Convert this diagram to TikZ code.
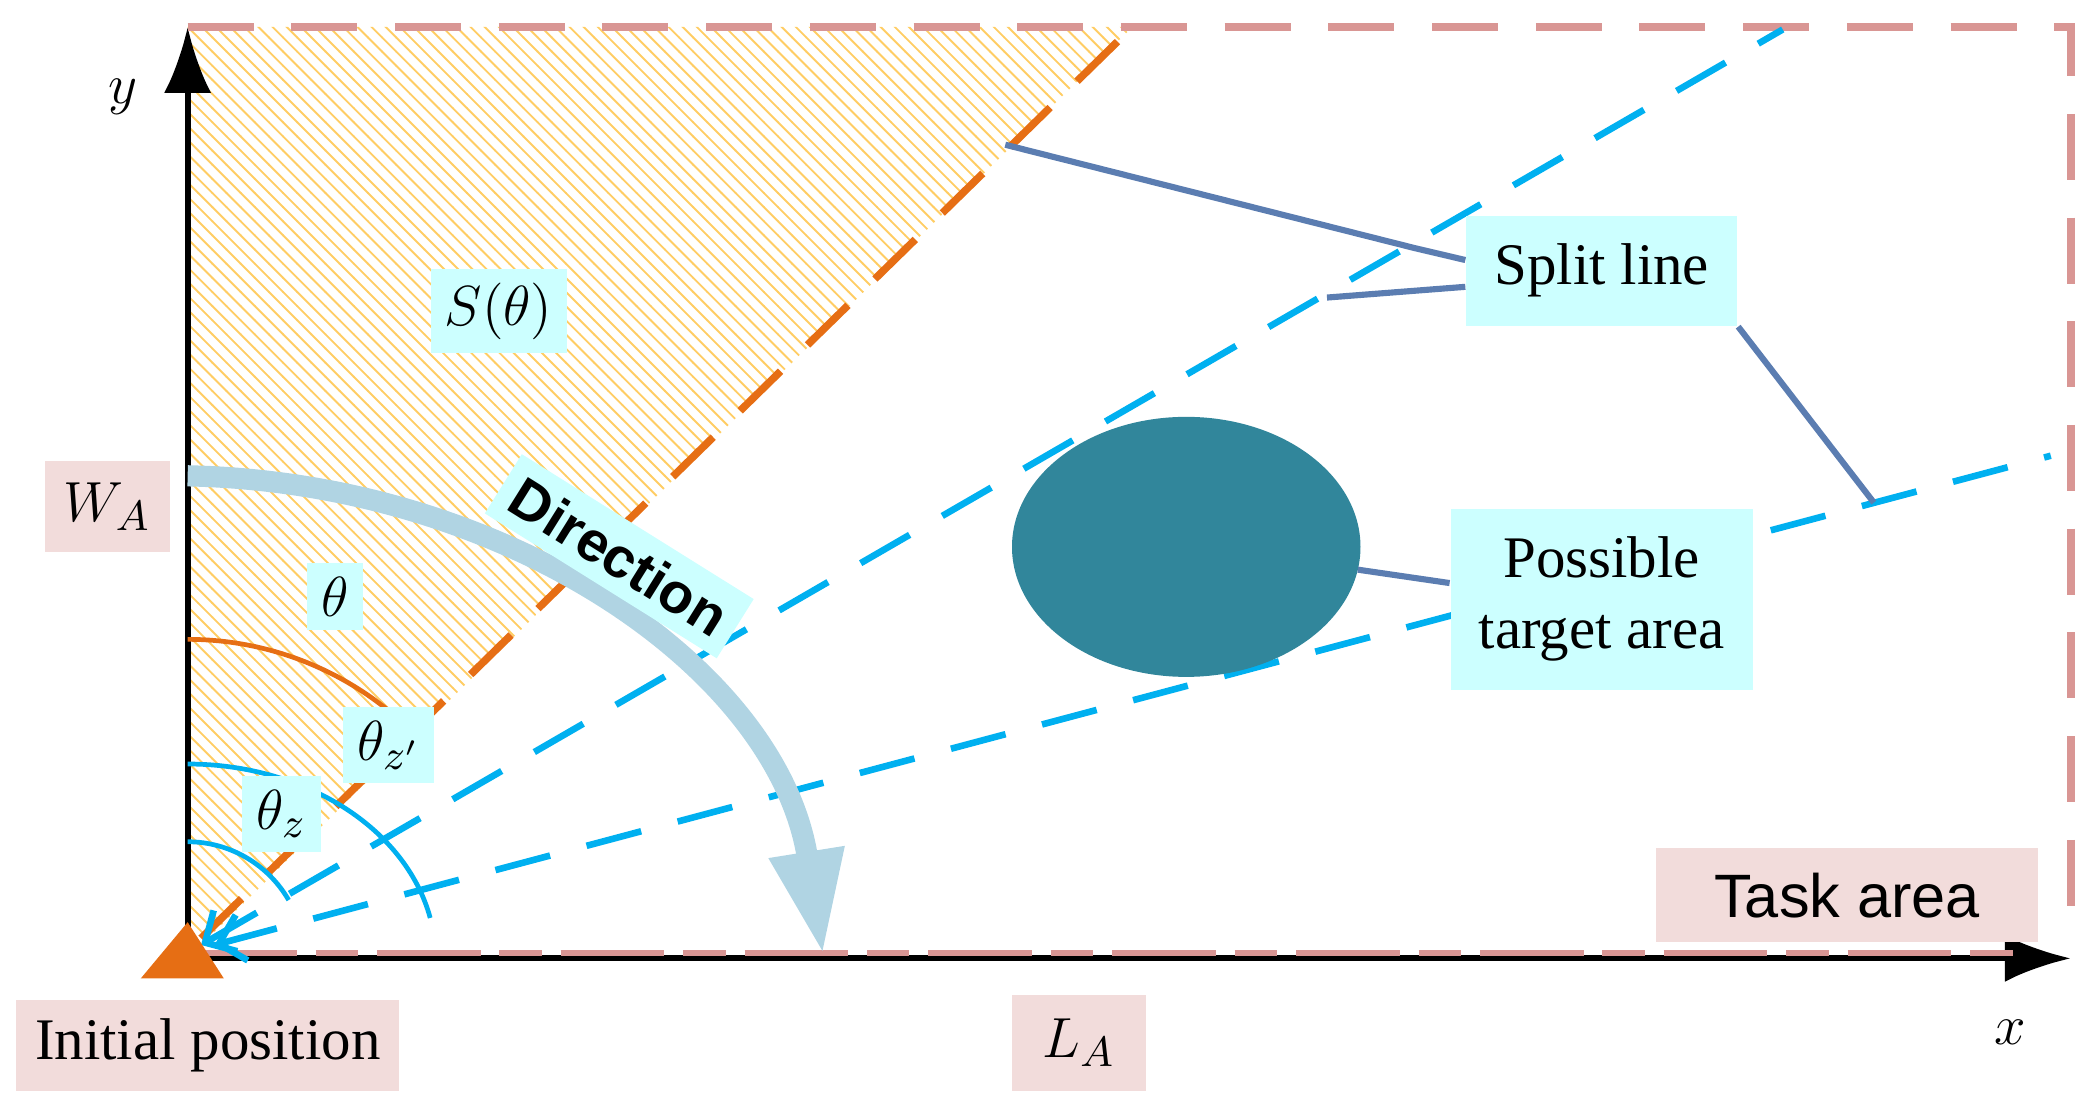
\documentclass[tikz,border=0pt]{standalone}
\usepackage{fontspec}
\setmainfont{Liberation Serif}
\newfontfamily\sansf{Liberation Sans}
\usetikzlibrary{patterns,arrows.meta}
\definecolor{taskc}{RGB}{217,150,148}
\definecolor{pinkf}{RGB}{242,220,219}
\definecolor{cyanf}{RGB}{204,255,255}
\definecolor{splitc}{RGB}{0,176,240}
\definecolor{orgc}{RGB}{230,110,20}
\definecolor{linkc}{RGB}{91,125,177}
\definecolor{ellc}{RGB}{49,134,155}
\definecolor{dirc}{RGB}{176,212,227}
\definecolor{hatchc}{RGB}{255,205,100}
\tikzset{
  lab/.style={fill=cyanf,inner sep=3pt,font=\fontsize{12.5}{15}\selectfont},
  plab/.style={fill=pinkf,inner sep=4pt,font=\fontsize{12.5}{15}\selectfont},
  split/.style={splitc,line width=1.4pt,dash pattern=on 12pt off 8pt},
  link/.style={linkc,line width=1.3pt},
}
\begin{document}
\begin{tikzpicture}[x=0.01cm,y=-0.01cm]
	\useasboundingbox (0,0) rectangle (1560,819);
	
	\coordinate (O) at (140,715);
	% hatched region
	\fill[pattern=north west lines,pattern color=hatchc] (140,715) -- (140,20) -- (845,20) -- cycle;
	
	% axes
	\draw[line width=1.3pt,-{Latex[length=14pt,width=10pt]}] (O) -- (140,20) coordinate (Y);
	\draw[line width=1.3pt,-{Latex[length=14pt,width=10pt]}] (O) -- (1545,715) coordinate (X);
	
	% task area
	\draw[taskc,line width=1.6pt,dash pattern=on 14pt off 8pt] (140,20) -- (1545,20) -- (1545,700);
	\draw[taskc,line width=1.3pt,dash pattern=on 22pt off 4pt on 9pt off 4pt] (144,711) -- (1515,711);
	
	% split lines
	\draw[orgc,line width=1.6pt,dash pattern=on 12pt off 8pt] (150,700) -- (845,20) coordinate (P0);
	\draw[split,{Straight Barb[length=5pt]}-] (150,705) -- (1330,22) coordinate (P1);
	\draw[split,{Straight Barb[length=5pt]}-] (160,705) -- (1530,340) coordinate (P2);
	
	% angles
	\draw[orgc,line width=1pt] (140,477) arc[start angle=-90,end angle=-44.4,radius=238];
	\draw[splitc,line width=1pt] (140,570) arc[start angle=-90,end angle=-12,x radius=185,y radius=145];
	\draw[splitc,line width=1pt] (140,628) arc[start angle=-90,end angle=-30,radius=87];
	
	% direction
	\draw[dirc,line width=4.5pt,-{Triangle[length=22pt,width=15pt]}] (140,355) .. controls (380,360) and (580,500) .. (614,712);
	\node[lab,rotate=-32,font=\sansf\bfseries\fontsize{12}{14}\selectfont] (dir) at (462,415) {Direction};
	
	% target
	\fill[ellc] (885,408) ellipse[x radius=130,y radius=97];
	\coordinate (E) at (1013,425);
	
	\fill[orgc] (105,730) -- (140,688) -- (167,730) -- cycle;
	
	% labels
	\node[lab] (S) at (372,232) {$S(\theta)$};
	\node[lab] (th) at (250,445) {$\theta$};
	\node[lab] (thz2) at (290,556) {$\theta_{z'}$};
	\node[lab] (thz) at (210,607) {$\theta_z$};
	\node[lab,inner sep=6pt] (sl) at (1195,202) {Split line};
	\node[lab,align=center,inner sep=6pt] (ta) at (1195,447) {Possible\\target area};
	\node[plab,minimum width=2.85cm,minimum height=0.7cm,font=\sansf\fontsize{13}{15}\selectfont] (task) at (1378,668) {Task area};
	\node[plab,minimum width=0.85cm,minimum height=0.68cm] (wa) at (80,378) {$W_A$};
	\node[plab,minimum width=1cm,minimum height=0.72cm] (la) at (805,778) {$L_A$};
	\node[plab,minimum width=2.85cm,minimum height=0.62cm] (ip) at (155,780) {Initial position};
	\node[font=\fontsize{13}{15}\selectfont] (ylab) at (92,72) {$y$};
	\node[font=\fontsize{13}{15}\selectfont] (xlab) at (1500,770) {$x$};
	
	% connectors
	\coordinate (c0) at (750,108);
	\coordinate (c1) at (1055,185);
	\coordinate (c2) at (990,222);
	\coordinate (c3) at (1398,375);
	\draw[link] (sl.west) ++(0,-8) -- (c1) -- (c0);
	\draw[link] (sl.west) ++(0,12) -- (c2);
	\draw[link] (sl.south east) -- (c3);
	\draw[link] (ta.west) ++(0,-12) -- (E);
	
\end{tikzpicture}
\end{document}
